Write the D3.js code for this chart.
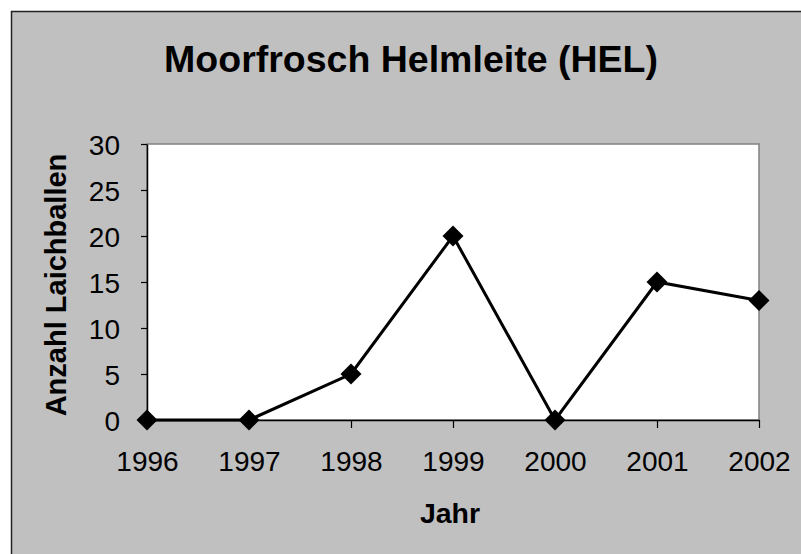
<!DOCTYPE html>
<html>
<head>
<meta charset="utf-8">
<script src="https://cdn.jsdelivr.net/npm/d3@7"></script>
<style>
  body { margin: 0; background: #fff; }
  text { font-family: Arial, "Liberation Sans", sans-serif; fill: #000; }
</style>
</head>
<body>
<script>
// chart data
var years = ["1996", "1997", "1998", "1999", "2000", "2001", "2002"];
var laichballen = [0, 0, 5, 20, 0, 15, 13];
var yTicks = [0, 5, 10, 15, 20, 25, 30];

var w = 801, h = 554;
var plotLeft = 147, plotRight = 759, plotTop = 144, plotBottom = 420;

var svg = d3.select("body").append("svg")
  .attr("width", w)
  .attr("height", h);

// grey chart area with dark border (runs off the right/bottom edge)
svg.append("rect")
  .attr("x", 11.5).attr("y", 11.5)
  .attr("width", w + 20).attr("height", h + 20)
  .attr("fill", "#c0c0c0")
  .attr("stroke", "#222")
  .attr("stroke-width", 1.5);

var x = d3.scalePoint().domain(years).range([plotLeft, plotRight]);
var y = d3.scaleLinear().domain([0, 30]).range([plotBottom, plotTop]);

// plot area
svg.append("rect")
  .attr("x", plotLeft).attr("y", plotTop)
  .attr("width", plotRight - plotLeft).attr("height", plotBottom - plotTop)
  .attr("fill", "#fff")
  .attr("stroke", "#808080")
  .attr("stroke-width", 1.5);

// y axis
var yAxis = svg.append("g")
  .attr("transform", "translate(" + plotLeft + ",0)")
  .call(d3.axisLeft(y).tickValues(yTicks).tickSize(6).tickPadding(21).tickSizeOuter(0));
yAxis.select(".domain").attr("stroke", "#000").attr("stroke-width", 1.5);
yAxis.selectAll(".tick line").attr("stroke", "#000").attr("stroke-width", 1.2);
yAxis.selectAll(".tick text")
  .style("font-size", "28px")
  .style("font-family", "Arial, 'Liberation Sans', sans-serif")
  .attr("dy", "0.36em");

// x axis
var xAxis = svg.append("g")
  .attr("transform", "translate(0," + plotBottom + ")")
  .call(d3.axisBottom(x).tickSize(8).tickPadding(23).tickSizeOuter(0));
xAxis.select(".domain").attr("stroke", "#000").attr("stroke-width", 1.5);
xAxis.selectAll(".tick line").attr("stroke", "#000").attr("stroke-width", 1.2);
xAxis.selectAll(".tick text")
  .style("font-size", "28px")
  .style("font-family", "Arial, 'Liberation Sans', sans-serif")
  .attr("dy", "0.71em");

// line
var line = d3.line()
  .x(function (d, i) { return x(years[i]); })
  .y(function (d) { return y(d); });

svg.append("path")
  .datum(laichballen)
  .attr("d", line)
  .attr("fill", "none")
  .attr("stroke", "#000")
  .attr("stroke-width", 3);

// diamond markers
svg.selectAll(".marker")
  .data(laichballen)
  .enter().append("path")
  .attr("class", "marker")
  .attr("transform", function (d, i) {
    return "translate(" + x(years[i]) + "," + y(d) + ")";
  })
  .attr("d", "M0,-10.5L10.5,0L0,10.5L-10.5,0Z")
  .attr("fill", "#000");

// title
svg.append("text")
  .attr("x", 411).attr("y", 72)
  .attr("text-anchor", "middle")
  .style("font-size", "37.5px")
  .style("font-weight", "bold")
  .text("Moorfrosch Helmleite (HEL)");

// axis titles
svg.append("text")
  .attr("x", 450).attr("y", 523)
  .attr("text-anchor", "middle")
  .style("font-size", "28.5px")
  .style("font-weight", "bold")
  .text("Jahr");

svg.append("text")
  .attr("transform", "translate(66,285) rotate(-90)")
  .attr("text-anchor", "middle")
  .style("font-size", "29px")
  .style("font-weight", "bold")
  .text("Anzahl Laichballen");
</script>
</body>
</html>
